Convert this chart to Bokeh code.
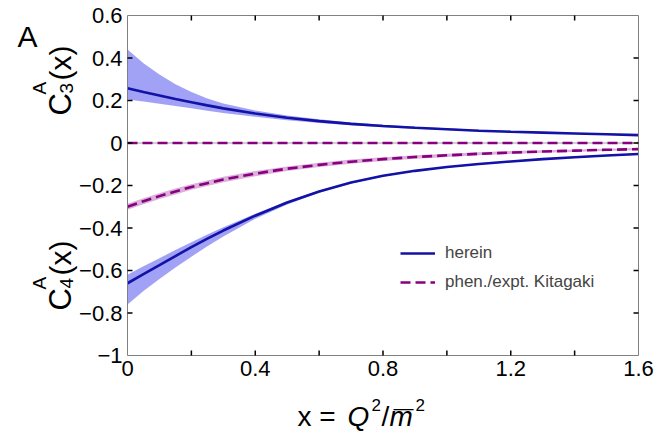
from math import pi, nan

from bokeh.embed import file_html
from bokeh.models import (CustomJSTickFormatter, FixedTicker, Label, Legend,
                          LegendItem, LinearAxis, Range1d)
from bokeh.plotting import figure
from bokeh.resources import INLINE

# ---------------------------------------------------------------- data
x = [0.0, 0.05, 0.1, 0.15, 0.2, 0.25, 0.3, 0.4, 0.5, 0.6,
     0.7, 0.8, 0.9, 1.0, 1.1, 1.2, 1.3, 1.4, 1.5, 1.6]

# C3^A(x), present calculation: central curve and uncertainty band
c3 = [0.258, 0.240, 0.224, 0.207, 0.192, 0.177, 0.163, 0.139, 0.119, 0.103,
      0.090, 0.080, 0.072, 0.065, 0.058, 0.053, 0.049, 0.045, 0.041, 0.037]
c3_hi = [0.440, 0.375, 0.322, 0.277, 0.240, 0.209, 0.186, 0.153, 0.130, 0.112,
         0.097, 0.086, 0.077, 0.069, 0.062, 0.057, 0.052, 0.048, 0.044, 0.040]
c3_lo = [0.205, 0.195, 0.185, 0.174, 0.164, 0.152, 0.141, 0.123, 0.107, 0.094,
         0.083, 0.074, 0.067, 0.061, 0.055, 0.050, 0.046, 0.042, 0.038, 0.034]

# C4^A(x), present calculation
c4 = [-0.660, -0.617, -0.575, -0.532, -0.490, -0.450, -0.412, -0.342, -0.280, -0.228,
      -0.186, -0.154, -0.131, -0.113, -0.099, -0.087, -0.076, -0.067, -0.059, -0.052]
c4_hi = [-0.620, -0.580, -0.542, -0.504, -0.467, -0.431, -0.397, -0.333, -0.274, -0.224,
         -0.183, -0.151, -0.128, -0.110, -0.096, -0.084, -0.073, -0.064, -0.056, -0.049]
c4_lo = [-0.760, -0.697, -0.640, -0.586, -0.535, -0.486, -0.440, -0.357, -0.289, -0.234,
         -0.190, -0.158, -0.134, -0.116, -0.102, -0.090, -0.079, -0.070, -0.062, -0.055]

# Kitagaki phenomenological / experimental values
kit_c4 = [-0.300, -0.274, -0.250, -0.228, -0.207, -0.189, -0.172, -0.144, -0.121, -0.103,
          -0.088, -0.076, -0.066, -0.058, -0.051, -0.045, -0.040, -0.036, -0.032, -0.029]
kit_c4_hi = [-0.286, -0.260, -0.236, -0.214, -0.194, -0.176, -0.159, -0.132, -0.110, -0.093,
             -0.078, -0.067, -0.058, -0.050, -0.044, -0.038, -0.034, -0.030, -0.027, -0.024]
kit_c4_lo = [-0.314, -0.288, -0.264, -0.242, -0.220, -0.202, -0.185, -0.156, -0.132, -0.113,
             -0.098, -0.085, -0.074, -0.066, -0.058, -0.052, -0.046, -0.042, -0.037, -0.034]
kit_c3_x = [0.0, 1.6]
kit_c3 = [0.0, 0.0]

x_ticks = [0.0, 0.4, 0.8, 1.2, 1.6]
x_all_ticks = [0.0, 0.2, 0.4, 0.6, 0.8, 1.0, 1.2, 1.4, 1.6]
y_ticks = [-1.0, -0.8, -0.6, -0.4, -0.2, 0.0, 0.2, 0.4, 0.6]

# ---------------------------------------------------------------- geometry
FONT = "Liberation Sans"
BLUE = "#1212a6"
BAND = "#9c9cf6"
PURPLE = "#86007f"
PINK = "#dcb0da"
FRAME = "#808080"

W, H = 663, 433
LEFT, RIGHT, TOP, BOTTOM = 127, 638, 15, 355   # plot box on the canvas, px
X0, X1, Y0, Y1 = 0.0, 1.6, -1.0, 0.6            # plot box in data units
TICK = 5                                        # tick length, px

dx = (X1 - X0) / (RIGHT - LEFT)   # data units per horizontal pixel
dy = (Y1 - Y0) / (BOTTOM - TOP)   # data units per vertical pixel

# the drawing area spans the whole canvas; the plot box sits inside it
p = figure(width=W, height=H,
           x_range=Range1d(X0 - LEFT * dx, X1 + (W - RIGHT) * dx),
           y_range=Range1d(Y0 - (H - BOTTOM) * dy, Y1 + TOP * dy),
           output_backend="svg", toolbar_location=None,
           min_border=0, min_border_left=0, min_border_right=0,
           min_border_top=0, min_border_bottom=0,
           x_axis_type=None, y_axis_type=None)
p.xgrid.visible = False
p.ygrid.visible = False
p.outline_line_color = None
p.background_fill_color = "white"
p.border_fill_color = "white"


def px_x(px):
    """Horizontal canvas pixel -> data x."""
    return X0 + (px - LEFT) * dx


def px_y(py):
    """Vertical canvas pixel (from top) -> data y."""
    return Y1 - (py - TOP) * dy


fmt = CustomJSTickFormatter(code="""
    let s = Math.abs(tick).toFixed(1);
    if (s.endsWith('.0')) s = s.slice(0, -2);
    return (tick < -1e-9 ? '\\u2212' : '') + s;
""")


def style_axis(ax):
    ax.axis_line_color = None
    ax.major_tick_line_color = None
    ax.minor_tick_line_color = None
    ax.major_tick_in = 0
    ax.major_tick_out = 0
    ax.formatter = fmt
    ax.major_label_text_font = FONT
    ax.major_label_text_font_size = "22px"
    ax.major_label_text_color = "black"
    ax.major_label_standoff = 5


xb = LinearAxis(ticker=FixedTicker(ticks=x_ticks, minor_ticks=[]),
                fixed_location=Y0, bounds=(X0, X1))
style_axis(xb)
p.add_layout(xb, "below")
yl = LinearAxis(ticker=FixedTicker(ticks=y_ticks, minor_ticks=[]),
                fixed_location=X0, bounds=(Y0, Y1))
style_axis(yl)
p.add_layout(yl, "left")

# ---------------------------------------------------------------- bands
p.varea(x=x, y1=c3_lo, y2=c3_hi, fill_color=BAND, fill_alpha=0.95)
p.varea(x=x, y1=c4_lo, y2=c4_hi, fill_color=BAND, fill_alpha=0.95)
p.varea(x=x, y1=kit_c4_lo, y2=kit_c4_hi, fill_color=PINK, fill_alpha=1.0)

# ---------------------------------------------------------------- curves
p.line(kit_c3_x, kit_c3, line_color="#cfcfcf", line_width=2)
k3 = p.line(kit_c3_x, kit_c3, line_color=PURPLE, line_width=2.6, line_dash="10 5")
k4 = p.line(x, kit_c4, line_color=PURPLE, line_width=2.6, line_dash="10 5")
h3 = p.line(x, c3, line_color=BLUE, line_width=2.6)
h4 = p.line(x, c4, line_color=BLUE, line_width=2.6)

# ---------------------------------------------------------------- frame + ticks
p.line([X0, X1, X1, X0, X0], [Y0, Y0, Y1, Y1, Y0], line_color=FRAME, line_width=1)


def tick_path(positions, fixed, inward, vertical):
    """One broken polyline holding every tick mark along one side."""
    xs, ys = [], []
    for t in positions:
        a, b = (t, t), (fixed, fixed + inward)
        if vertical:
            xs += [a[0], a[1], nan]
            ys += [b[0], b[1], nan]
        else:
            xs += [b[0], b[1], nan]
            ys += [a[0], a[1], nan]
    return xs, ys


tx = x_all_ticks[1:-1]
ty = y_ticks[1:-1]
for pos, fixed, inward, vertical in ((tx, Y0, TICK * dy, True),
                                     (tx, Y1, -TICK * dy, True),
                                     (ty, X0, TICK * dx, False),
                                     (ty, X1, -TICK * dx, False)):
    txs, tys = tick_path(pos, fixed, inward, vertical)
    p.line(txs, tys, line_color="black", line_width=1.5)

legend = Legend(items=[LegendItem(label="herein", renderers=[h3]),
                       LegendItem(label="phen./expt. Kitagaki", renderers=[k4])],
                location=(400, H - 295), padding=0, margin=0, spacing=3,
                label_height=26, glyph_height=26, glyph_width=35,
                label_standoff=10, label_text_font=FONT,
                label_text_font_size="17px", border_line_color=None,
                background_fill_alpha=0)
p.add_layout(legend)


# ---------------------------------------------------------------- texts
def put(text, px, py, size, angle=0.0, style="normal"):
    p.add_layout(Label(x=px_x(px), y=px_y(py), text=text, angle=angle,
                       text_font=FONT, text_font_size=f"{size}px",
                       text_font_style=style, text_color="black",
                       text_align="left", text_baseline="alphabetic"))


# panel tag
put("A", 17, 36, 30)

# x axis title: x = Q^2 / m-bar^2
put("x =", 297, 416, 28)
put("Q", 347, 416, 28, style="italic")
put("2", 371, 404, 17)
put("/", 381, 416, 28)
put("m", 389, 416, 28, style="italic")
put("\u2014", 393, 407, 20)
put("2", 415, 404, 17)

# y axis titles (rotated): C3^A(x) above zero, C4^A(x) below
for sub, y_start in (("3", 115), ("4", 310)):
    put("C", 60, y_start, 31, angle=pi / 2)
    put(sub, 66, y_start - 22, 19, angle=pi / 2)
    put("A", 39, y_start - 21, 19, angle=pi / 2)
    put("(x)", 60, y_start - 35, 30, angle=pi / 2)

open("out.html", "w").write(file_html(p, INLINE))
